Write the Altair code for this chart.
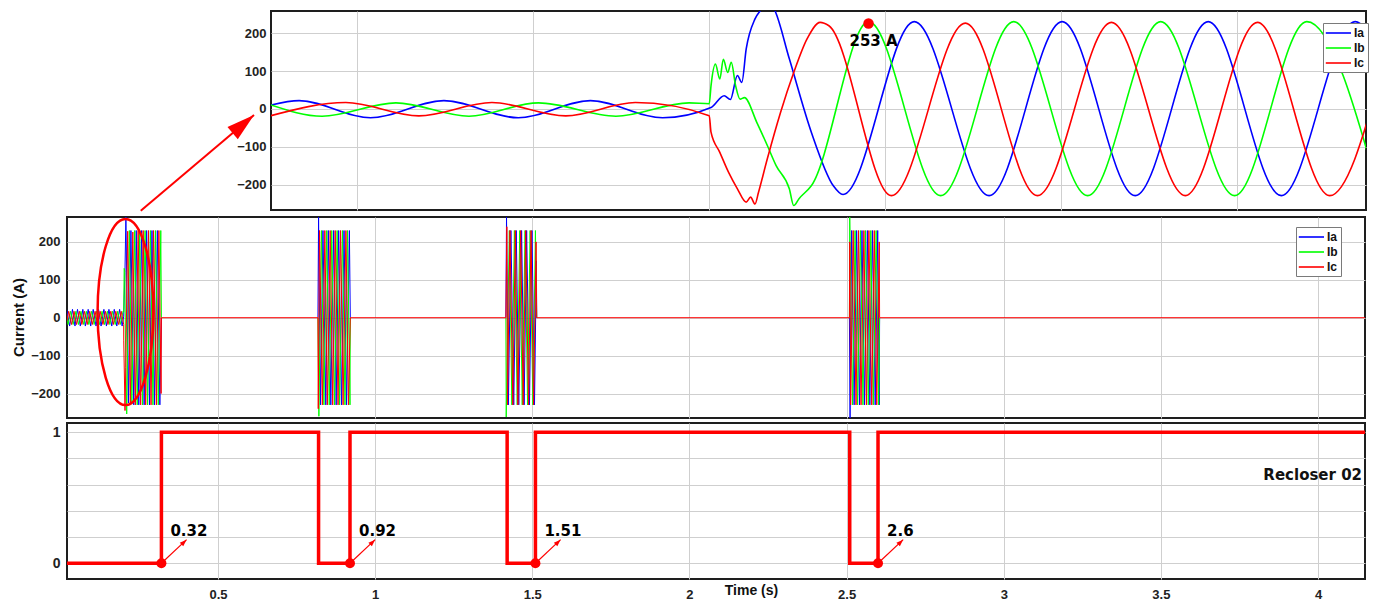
import altair as alt
import pandas as pd

PHASES = ["Ia", "Ib", "Ic"]
PHASE_COLORS = ["#0000ff", "#00ff00", "#ff0000"]

# ---------------- inset: zoom on the first fault (t in s, current in A) ----------------
in_ia_t = [0.1502, 0.1534, 0.1615, 0.16985, 0.1783, 0.1865, 0.1947, 0.2002, 0.2017, 0.2024,
           0.2032, 0.2037, 0.2042, 0.2052, 0.2059, 0.2066, 0.2074, 0.2091, 0.2116, 0.2141,
           0.2152, 0.2233, 0.2318, 0.2401, 0.2484, 0.2567, 0.2650, 0.2734, 0.2762]
in_ia_v = [10.5, 22, -23, 22, -23, 22, -23, 4, 35, 25,
           88, 70, 158, 237, 262, 285, 262, 132, -61, -202,
           -225, 230, -228, 230, -228, 230, -228, 230, 139]

in_ib_t = [0.1502, 0.1560, 0.1644, 0.1727, 0.1806, 0.1894, 0.1977, 0.2000, 0.2002, 0.2007,
           0.2012, 0.2016, 0.2021, 0.2025, 0.2030, 0.2035, 0.2040, 0.2054, 0.2066, 0.2076,
           0.2091, 0.2096, 0.2102, 0.2116, 0.2181, 0.2263, 0.2346, 0.2430, 0.2513, 0.2597,
           0.2679, 0.2762]
in_ib_v = [10.5, -19, 16, -19, 16, -19, 16, 14, 61, 118,
           79, 131, 96, 123, 61, 26, 30, -35, -96, -149,
           -210, -254, -236, -202, 230, -228, 230, -228, 230, -228,
           230, -228]

in_ic_t = [0.1502, 0.1587, 0.1670, 0.1753, 0.1837, 0.1916, 0.2000, 0.2002, 0.2012, 0.2022,
           0.2032, 0.2042, 0.2047, 0.2052, 0.2056, 0.2066, 0.2081, 0.2096, 0.2111, 0.2126,
           0.2136, 0.2207, 0.2291, 0.2373, 0.2457, 0.2541, 0.2623, 0.2705, 0.2762]
in_ic_v = [-17.6, 17, -18, 17, -18, 17, -17.6, -61, -114, -167,
           -210, -245, -232, -250, -219, -131, -9, 96, 184, 228,
           219, -228, 226, -228, 228, -228, 228, -228, 79]

peak_t = [0.2181]
peak_v = [225]
peak_lbl = ["253 A"]

zoom_arrow_t = [0.13540]
zoom_arrow_v = [-268]
zoom_arrow_t2 = [0.14827]
zoom_arrow_v2 = [-15.8]

# ---------------- main current plot ----------------
m_ia_t = [0.019, 0.028, 0.037, 0.045, 0.053, 0.062, 0.070, 0.078, 0.087, 0.095, 0.103, 0.112,
          0.120, 0.128, 0.137, 0.145, 0.153, 0.162, 0.170, 0.178, 0.187, 0.195, 0.200,
          0.204, 0.207, 0.215, 0.223, 0.232, 0.240, 0.248, 0.257, 0.265, 0.273, 0.282, 0.290,
          0.298, 0.307, 0.315, 0.320,
          0.818, 0.820, 0.826, 0.834, 0.843, 0.851, 0.859, 0.868, 0.876, 0.884, 0.893, 0.901,
          0.909, 0.918, 0.921,
          1.416, 1.418, 1.424, 1.432, 1.441, 1.449, 1.457, 1.466, 1.474, 1.482, 1.491, 1.499,
          1.507, 1.513, 1.514,
          2.509, 2.511, 2.516, 2.524, 2.532, 2.541, 2.549, 2.557, 2.566, 2.574, 2.582, 2.591,
          2.599, 2.604, 2.605,
          4.186]
m_ia_v = [21, -22, 22, -22, 22, -22, 22, -22, 22, -22, 22, -22,
          22, -22, 22, -22, 22, -22, 22, -22, 22, -22, 4,
          120, 266, -225, 230, -230, 230, -230, 230, -230, 230, -230, 230,
          -230, 230, -230, 0,
          0, 265, -230, 230, -230, 230, -230, 230, -230, 230, -230, 230,
          -230, 230, 0,
          0, 265, -230, 230, -230, 230, -230, 230, -230, 230, -230, 230,
          -230, 150, 0,
          0, -266, 230, -230, 230, -230, 230, -230, 230, -230, 230, -230,
          230, -230, 0,
          0]

m_ib_t = [0.019, 0.023, 0.031, 0.039, 0.048, 0.056, 0.064, 0.073, 0.081, 0.089, 0.098, 0.106,
          0.114, 0.123, 0.131, 0.139, 0.148, 0.156, 0.164, 0.173, 0.181, 0.189, 0.198, 0.200,
          0.2015, 0.2035, 0.2053, 0.2096, 0.218, 0.226, 0.235, 0.243, 0.251, 0.260, 0.268, 0.276,
          0.285, 0.293, 0.301, 0.310, 0.318, 0.320,
          0.818, 0.821, 0.829, 0.837, 0.846, 0.854, 0.862, 0.871, 0.879, 0.887, 0.896, 0.904,
          0.912, 0.920, 0.921,
          1.416, 1.417, 1.427, 1.435, 1.443, 1.452, 1.460, 1.468, 1.477, 1.485, 1.493, 1.502,
          1.510, 1.514,
          2.509, 2.510, 2.519, 2.527, 2.535, 2.544, 2.552, 2.560, 2.569, 2.577, 2.585, 2.594,
          2.602, 2.605,
          4.186]
m_ib_v = [5, -18, 17, -18, 17, -18, 17, -18, 17, -18, 17, -18,
          17, -18, 17, -18, 17, -18, 17, -18, 17, -18, 17, 15,
          130, 123, -35, -254, 230, -228, 230, -230, 230, -230, 230, -230,
          230, -230, 230, -230, 230, 0,
          0, -260, 230, -230, 230, -230, 230, -230, 230, -230, 230, -230,
          230, -230, 0,
          0, -262, 230, -230, 230, -230, 230, -230, 230, -230, 230, -230,
          230, 0,
          0, 266, -230, 230, -230, 230, -230, 230, -230, 230, -230, 230,
          -230, 0,
          0]

m_ic_t = [0.019, 0.025, 0.034, 0.042, 0.050, 0.059, 0.067, 0.075, 0.084, 0.092, 0.100, 0.109,
          0.117, 0.125, 0.134, 0.142, 0.150, 0.159, 0.167, 0.175, 0.184, 0.192, 0.200,
          0.2002, 0.2042, 0.2066, 0.2126, 0.221, 0.229, 0.237, 0.246, 0.254, 0.262, 0.270, 0.279,
          0.287, 0.295, 0.304, 0.312, 0.319, 0.320,
          0.818, 0.819, 0.823, 0.832, 0.840, 0.848, 0.857, 0.865, 0.873, 0.882, 0.890, 0.898,
          0.907, 0.915, 0.921,
          1.416, 1.419, 1.421, 1.429, 1.438, 1.446, 1.454, 1.463, 1.471, 1.479, 1.488, 1.496,
          1.504, 1.512, 1.514,
          2.509, 2.510, 2.513, 2.521, 2.530, 2.538, 2.546, 2.555, 2.563, 2.571, 2.580, 2.588,
          2.596, 2.604, 2.605,
          4.186]
m_ic_v = [-10, 17, -18, 17, -18, 17, -18, 17, -18, 17, -18, 17,
          -18, 17, -18, 17, -18, 17, -18, 17, -18, 17, -18,
          -61, -245, -131, 228, -228, 226, -230, 230, -230, 230, -230, 230,
          -230, 230, -230, 230, -200, 0,
          0, -240, 230, -230, 230, -230, 230, -230, 230, -230, 230, -230,
          230, -230, 0,
          0, 240, -230, 230, -230, 230, -230, 230, -230, 230, -230, 230,
          -230, 200, 0,
          0, 200, -230, 230, -230, 230, -230, 230, -230, 230, -230, 230,
          -230, 200, 0,
          0]

ellipse_t = [0.2057]
ellipse_v = [15]

# ---------------- recloser state ----------------
rec_t = [0.019, 0.32, 0.32, 0.82, 0.82, 0.92, 0.92, 1.42, 1.42, 1.51, 1.51, 2.51, 2.51, 2.60, 2.60, 4.186]
rec_v = [0, 0, 1, 1, 0, 0, 1, 1, 0, 0, 1, 1, 0, 0, 1, 1]

close_t = [0.32, 0.92, 1.51, 2.60]
close_v = [0, 0, 0, 0]
close_lbl = ["0.32", "0.92", "1.51", "2.6"]
close_arrow_t2 = [0.40, 1.00, 1.59, 2.68]
close_arrow_v2 = [0.18, 0.18, 0.18, 0.18]

rec_name = ["Recloser 02"]
rec_name_t = [4.140]
rec_name_v = [0.677]

# ---------------- tables ----------------
def phase_table(series, split_gap=None):
    """One row per point; a new segment starts after a long flat gap (only when split_gap is set)."""
    rows = []
    for name, ts, vs, split in series:
        seg = 0
        for i, (t, v) in enumerate(zip(ts, vs)):
            if split and split_gap is not None and i > 0 and t - ts[i - 1] > split_gap:
                seg += 1
            rows.append({"phase": name, "t": t, "v": v, "i": i, "seg": f"{name}-{seg}"})
    return pd.DataFrame(rows)

inset_df = phase_table([("Ia", in_ia_t, in_ia_v, False), ("Ib", in_ib_t, in_ib_v, False),
                        ("Ic", in_ic_t, in_ic_v, False)])
# Ia and Ib are not drawn along the zero stretches, so the red Ic trace stays pure red there
main_df = phase_table([("Ia", m_ia_t, m_ia_v, True), ("Ib", m_ib_t, m_ib_v, True),
                       ("Ic", m_ic_t, m_ic_v, False)], split_gap=0.05)
peak_df = pd.DataFrame({"t": peak_t, "v": peak_v, "lbl": peak_lbl})
zarrow_df = pd.DataFrame({"t": zoom_arrow_t, "v": zoom_arrow_v, "t2": zoom_arrow_t2, "v2": zoom_arrow_v2})
zhead_df = pd.DataFrame({"t": zoom_arrow_t2, "v": zoom_arrow_v2})
ell_df = pd.DataFrame({"t": ellipse_t, "v": ellipse_v})
rec_df = pd.DataFrame({"t": rec_t, "v": rec_v, "i": list(range(len(rec_t)))})
close_df = pd.DataFrame({"t": close_t, "v": close_v, "lbl": close_lbl,
                         "t2": close_arrow_t2, "v2": close_arrow_v2})
chead_df = pd.DataFrame({"t": close_arrow_t2, "v": close_arrow_v2})
name_df = pd.DataFrame({"t": rec_name_t, "v": rec_name_v, "lbl": rec_name})

RED = "#ff0000"
LABEL_FONT = "Liberation Sans"
NOTE_FONT = "DejaVu Sans"
LEG_SHAPE = "M-1.2,0L3,0"
BIG_HEAD = "M0,0L-0.57,2L0.57,2Z"
SMALL_HEAD = "M0,0L-0.36,1L0.36,1Z"
ELLIPSE = "M0,-1A0.3,1 0 1,1 0,1A0.3,1 0 1,1 0,-1Z"

color_scale = alt.Scale(domain=PHASES, range=PHASE_COLORS)


def phase_legend(x, y):
    return alt.Legend(orient="none", legendX=x, legendY=y, title=None,
                      symbolType=LEG_SHAPE, symbolSize=144, symbolStrokeWidth=1.6,
                      labelFontSize=12, labelFontWeight="bold", labelFont=LABEL_FONT,
                      labelColor="#111111", labelOffset=14, padding=3, rowPadding=2,
                      strokeColor="#7a7a7a", fillColor="#ffffff", cornerRadius=0)


# ---------------- inset chart ----------------
ix = alt.X("t:Q", scale=alt.Scale(domain=[0.1502, 0.27463], nice=False, zero=False),
           axis=alt.Axis(values=[0.16, 0.18, 0.20, 0.22, 0.24, 0.26], labels=False, ticks=False,
                         domain=False, title=None, grid=True, minExtent=0))
iy = alt.Y("v:Q", scale=alt.Scale(domain=[-265.8, 257.9], nice=False, zero=False),
           axis=alt.Axis(values=[-200, -100, 0, 100, 200], labelFontSize=13, labelPadding=5,
                         title=None, grid=True, minExtent=140, maxExtent=140))

inset_lines = alt.Chart(inset_df).mark_line(clip=True, interpolate="monotone", strokeWidth=1.6).encode(
    x=ix, y=iy,
    color=alt.Color("phase:N", scale=color_scale, legend=phase_legend(1256, 12)),
    order=alt.Order("i:Q"))
peak_dot = alt.Chart(peak_df).mark_point(filled=True, size=110, color=RED, opacity=1).encode(x=ix, y=iy)
peak_txt = alt.Chart(peak_df).mark_text(font=NOTE_FONT, fontSize=15, fontWeight="bold", color="#000000",
                                        dx=5, dy=17).encode(x=ix, y=iy, text="lbl:N")
zarrow = alt.Chart(zarrow_df).mark_rule(color=RED, strokeWidth=2).encode(x=ix, y=iy, x2="t2:Q", y2="v2:Q")
zhead = alt.Chart(zhead_df).mark_point(shape=BIG_HEAD, filled=True, size=784, angle=49.8,
                                       color=RED, opacity=1).encode(x=ix, y=iy)

inset = alt.layer(inset_lines, peak_dot, peak_txt, zarrow, zhead).properties(width=1095, height=199)

spacer = alt.Chart(pd.DataFrame({"s": [0]})).mark_point(opacity=0).properties(
    width=63, height=10, view=alt.ViewBackground(strokeOpacity=0, fillOpacity=0))

top_row = alt.hconcat(spacer, inset, spacing=0)

# ---------------- main current chart ----------------
TIME_TICKS = [0.5, 1, 1.5, 2, 2.5, 3, 3.5, 4]
time_scale = alt.Scale(domain=[0.0196, 4.1494], nice=False, zero=False)

mx = alt.X("t:Q", scale=time_scale,
           axis=alt.Axis(values=TIME_TICKS, labels=False, ticks=False, domain=False, title=None,
                         grid=True, minExtent=0))
my = alt.Y("v:Q", scale=alt.Scale(domain=[-264.6, 265.7], nice=False, zero=False),
           axis=alt.Axis(values=[-200, -100, 0, 100, 200], labelFontSize=13, labelPadding=7,
                         title="Current (A)", titleX=-49, titleY=100, titleAngle=270,
                         titleAlign="center", titleBaseline="middle", titleFontSize=15,
                         titleFontWeight="bold", titleColor="#111111", titleFont=LABEL_FONT,
                         grid=True, minExtent=58))

main_lines = alt.Chart(main_df).mark_line(strokeWidth=1, clip=True).encode(
    x=mx, y=my,
    color=alt.Color("phase:N", scale=color_scale, legend=phase_legend(1229, 10)),
    detail="seg:N",
    order=alt.Order("i:Q"))
ellipse = alt.Chart(ell_df).mark_point(shape=ELLIPSE, size=34596, filled=False, strokeWidth=2.5,
                                       color=RED, opacity=1).encode(x=mx, y=my)

main = alt.layer(main_lines, ellipse).properties(width=1298, height=201)

# ---------------- recloser chart ----------------
bx = alt.X("t:Q", scale=time_scale,
           axis=alt.Axis(values=TIME_TICKS, format="~g", labelFontSize=13, labelPadding=9,
                         title="Time (s)", titleX=684, titleY=11, titleAlign="center",
                         titleBaseline="middle", titleFontSize=14, titleFontWeight="bold",
                         titleColor="#111111", titleFont=LABEL_FONT, grid=True, minExtent=0))
by = alt.Y("v:Q", scale=alt.Scale(domain=[-0.12, 1.07], nice=False, zero=False),
           axis=alt.Axis(values=[0, 0.2, 0.4, 0.6, 0.8, 1],
                         labelExpr="datum.value == 0 ? '0' : (datum.value == 1 ? '1' : '')",
                         labelFontSize=14, labelPadding=7, title=None, grid=True, minExtent=58))

rec_line = alt.Chart(rec_df).mark_line(color=RED, strokeWidth=3.5, strokeJoin="miter", clip=True).encode(
    x=bx, y=by, order=alt.Order("i:Q"))
close_dots = alt.Chart(close_df).mark_point(filled=True, size=100, color=RED, opacity=1).encode(x=bx, y=by)
close_arrows = alt.Chart(close_df).mark_rule(color=RED, strokeWidth=1.2).encode(x=bx, y=by, x2="t2:Q", y2="v2:Q")
close_heads = alt.Chart(chead_df).mark_point(shape=SMALL_HEAD, filled=True, size=196, angle=46,
                                             color=RED, opacity=1).encode(x=bx, y=by)
close_txt = alt.Chart(close_df).mark_text(font=NOTE_FONT, fontSize=15, fontWeight="bold", color="#000000",
                                          align="left", baseline="middle", dx=9, dy=-32).encode(
    x=bx, y=by, text="lbl:N")
name_txt = alt.Chart(name_df).mark_text(font=NOTE_FONT, fontSize=15, fontWeight="bold", color="#111111",
                                        align="right", baseline="middle").encode(x=bx, y=by, text="lbl:N")

recloser = alt.layer(rec_line, close_arrows, close_heads, close_dots, close_txt, name_txt).properties(
    width=1298, height=156)

lower = alt.vconcat(main, recloser, spacing=3).resolve_scale(
    color="independent", x="independent", y="independent").resolve_legend(color="independent")

chart = alt.vconcat(top_row, lower, spacing=0).resolve_scale(
    color="independent", x="independent", y="independent").resolve_legend(color="independent").properties(
    padding={"left": 0, "top": 2, "right": 0, "bottom": 0}, background="white")

chart = chart.configure(font=LABEL_FONT).configure_view(
    stroke="#1e1e1e", strokeWidth=2).configure_axis(
    gridColor="#cfcfcf", gridWidth=1, domain=False, ticks=False,
    labelFont=LABEL_FONT, labelFontWeight="bold", labelColor="#222222")

chart.save("out.html", embed_options={"renderer": "svg", "actions": False})
